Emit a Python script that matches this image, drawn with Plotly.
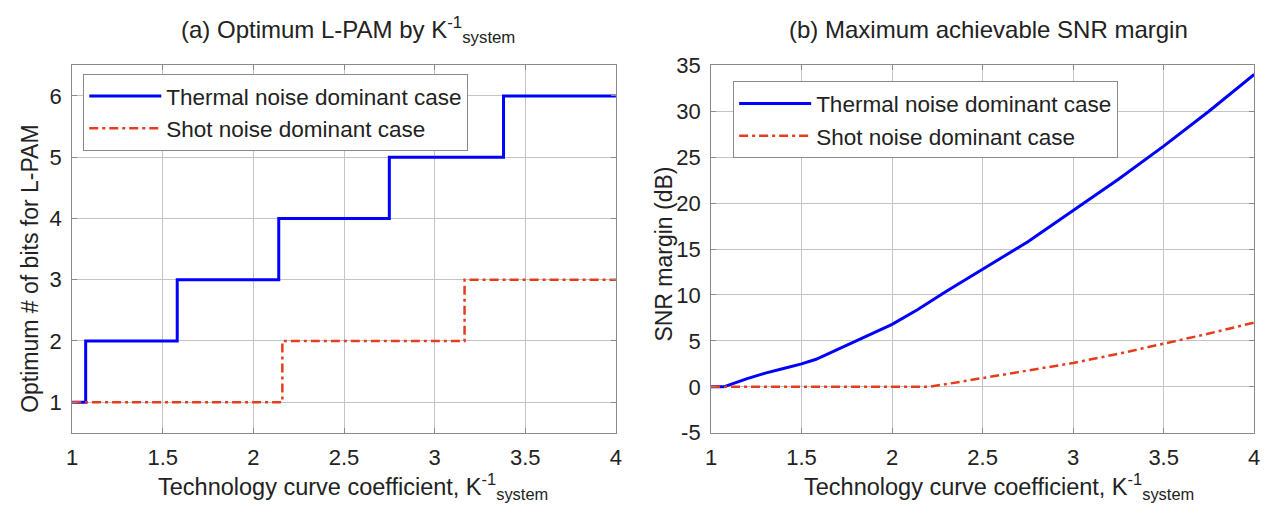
import plotly.graph_objects as go

# ---------------- data ----------------
# (a) Optimum L-PAM (step curves)
k_thermal_steps = [1.0, 1.075, 1.58, 2.14, 2.75, 3.38, 4.0]
bits_thermal = [1, 2, 3, 4, 5, 6, 6]
k_shot_steps = [1.0, 2.16, 3.165, 4.0]
bits_shot = [1, 2, 3, 3]

# (b) Maximum achievable SNR margin (dB)
k_thermal_snr = [1.0, 1.07, 1.2, 1.3, 1.4, 1.5, 1.58, 1.7, 1.8, 1.9, 2.0, 2.14,
                 2.3, 2.5, 2.75, 3.0, 3.25, 3.5, 3.75, 4.0]
snr_thermal = [0.0, 0.0, 0.9, 1.5, 2.0, 2.5, 3.0, 4.1, 5.0, 5.9, 6.8, 8.4,
               10.4, 12.8, 15.8, 19.2, 22.6, 26.2, 30.0, 34.0]
k_shot_snr = [1.0, 2.2, 2.3, 2.5, 2.75, 3.0, 3.25, 3.5, 3.75, 4.0]
snr_shot = [0.0, 0.0, 0.3, 0.95, 1.75, 2.6, 3.6, 4.7, 5.8, 7.0]

names = ["Thermal noise dominant case", "Shot noise dominant case"]
x_ticks = [1, 1.5, 2, 2.5, 3, 3.5, 4]
x_tick_text = ["1", "1.5", "2", "2.5", "3", "3.5", "4"]
a_y_ticks = [1, 2, 3, 4, 5, 6]
b_y_ticks = [-5, 0, 5, 10, 15, 20, 25, 30, 35]
b_y_tick_text = ["-5", "0", "5", "10", "15", "20", "25", "30", "35"]

# ---------------- style ----------------
W, H = 1282, 521
BLUE = "#0000FF"
RED = "#E63C1E"
DASH = "9px,4px,3px,4px"
FONT = "Liberation Sans, Arial, sans-serif"
TXT = "#222222"
GRID = "#C4C4C4"
FRAME = "#8A8A8A"

def px_x(p):
    return p / W

def px_y(p):
    return 1 - p / H

fig = go.Figure()

fig.add_trace(go.Scatter(x=k_thermal_steps, y=bits_thermal, mode="lines", line_shape="hv",
                         line=dict(color=BLUE, width=3), name=names[0],
                         xaxis="x", yaxis="y", legend="legend", legendgroup="a1"))
fig.add_trace(go.Scatter(x=k_shot_steps, y=bits_shot, mode="lines", line_shape="hv",
                         line=dict(color=RED, width=2.5, dash=DASH), name=names[1],
                         xaxis="x", yaxis="y", legend="legend", legendgroup="a2"))
fig.add_trace(go.Scatter(x=k_thermal_snr, y=snr_thermal, mode="lines",
                         line=dict(color=BLUE, width=3), name=names[0],
                         xaxis="x2", yaxis="y2", legend="legend2", legendgroup="b1"))
fig.add_trace(go.Scatter(x=k_shot_snr, y=snr_shot, mode="lines",
                         line=dict(color=RED, width=2.5, dash=DASH), name=names[1],
                         xaxis="x2", yaxis="y2", legend="legend2", legendgroup="b2"))

ydom = [px_y(442), px_y(56)]

axis_common = dict(showgrid=True, gridcolor=GRID, gridwidth=1, showline=True,
                   linecolor=FRAME, linewidth=1, mirror="ticks", ticks="inside",
                   ticklen=5, tickcolor=FRAME, zeroline=False, ticklabelstandoff=5,
                   tickfont=dict(family=FONT, size=22, color=TXT))

legend_common = dict(xanchor="left", yanchor="top", bgcolor="white",
                     bordercolor=FRAME, borderwidth=1, itemwidth=72,
                     tracegroupgap=5, traceorder="normal",
                     font=dict(family=FONT, size=22.5, color=TXT))

fig.update_layout(
    width=W, height=H,
    margin=dict(l=0, r=0, t=0, b=0),
    paper_bgcolor="white", plot_bgcolor="white",
    font=dict(family=FONT, size=22, color=TXT),
    xaxis=dict(domain=[px_x(66.7), px_x(615.7)], range=[1, 4], tickvals=x_ticks,
               ticktext=x_tick_text, anchor="y", **axis_common),
    yaxis=dict(domain=ydom, range=[0.5, 6.5], tickvals=a_y_ticks, anchor="x", **axis_common),
    xaxis2=dict(domain=[px_x(711.7), px_x(1260)], range=[1, 4], tickvals=x_ticks,
                ticktext=x_tick_text, anchor="y2", **axis_common),
    yaxis2=dict(domain=ydom, range=[-5, 35], tickvals=b_y_ticks, ticktext=b_y_tick_text,
                anchor="x2", **axis_common),
    legend=dict(x=px_x(78), y=px_y(65), **legend_common),
    legend2=dict(x=px_x(734), y=px_y(73), **legend_common),
    showlegend=True,
)

ann = []
ann.append(dict(text="(a) Optimum L-PAM by K<sup>-1</sup><sub>system</sub>", x=px_x(345), y=px_y(19),
                xref="paper", yref="paper", xanchor="center", yanchor="middle", showarrow=False,
                font=dict(family=FONT, size=24, color=TXT)))
ann.append(dict(text="(b) Maximum achievable SNR margin", x=px_x(992), y=px_y(18),
                xref="paper", yref="paper", xanchor="center", yanchor="middle", showarrow=False,
                font=dict(family=FONT, size=24, color=TXT)))
for cx in (350, 1002):
    ann.append(dict(text="Technology curve coefficient, K<sup>-1</sup><sub>system</sub>", x=px_x(cx),
                    y=px_y(498), xref="paper", yref="paper", xanchor="center", yanchor="middle",
                    showarrow=False, font=dict(family=FONT, size=23.5, color=TXT)))
ann.append(dict(text="Optimum # of bits for L-PAM", x=px_x(24), y=px_y(270), textangle=-90,
                xref="paper", yref="paper", xanchor="center", yanchor="middle", showarrow=False,
                font=dict(family=FONT, size=23, color=TXT)))
ann.append(dict(text="SNR margin (dB)", x=px_x(664), y=px_y(254), textangle=-90,
                xref="paper", yref="paper", xanchor="center", yanchor="middle", showarrow=False,
                font=dict(family=FONT, size=23, color=TXT)))
fig.update_layout(annotations=ann)

fig.write_html("out.html")
